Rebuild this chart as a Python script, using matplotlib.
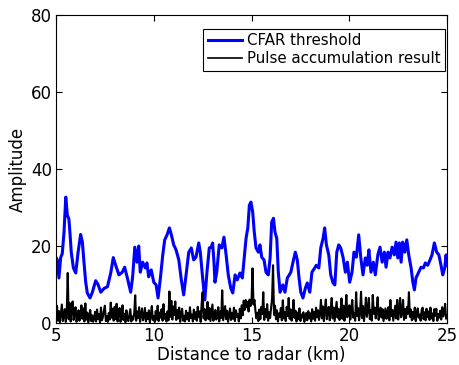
import matplotlib
matplotlib.use("Agg")
import matplotlib.pyplot as plt
import numpy as np

plt.rcParams['font.family'] = ['DejaVu Sans']

# CFAR threshold (km, amplitude)
cfar_km = [5.00, 5.07, 5.15, 5.24, 5.32, 5.41, 5.50, 5.58, 5.66, 5.72, 5.78, 5.89,
           6.01, 6.13, 6.26, 6.35, 6.43, 6.52, 6.60, 6.74, 6.86, 7.03, 7.15, 7.29,
           7.46, 7.63, 7.80, 7.93, 8.05, 8.22, 8.39, 8.51, 8.65, 8.82, 8.92,
           9.03, 9.14, 9.23, 9.31, 9.43, 9.57, 9.65, 9.74, 9.87, 10.00, 10.12,
           10.22, 10.34, 10.46, 10.56, 10.68, 10.80, 10.90, 11.02, 11.14, 11.28,
           11.41, 11.53, 11.65, 11.79, 11.92, 12.04, 12.16, 12.30, 12.38, 12.50,
           12.61, 12.72, 12.84, 12.94,
           13.01, 13.08, 13.13, 13.22, 13.35, 13.48, 13.59, 13.70, 13.81, 13.94,
           14.04, 14.16, 14.27, 14.41, 14.53, 14.63, 14.72, 14.81, 14.89, 14.97,
           15.06, 15.14, 15.23, 15.35, 15.43, 15.52, 15.64, 15.74, 15.86, 15.95,
           16.03, 16.12, 16.20, 16.29, 16.37, 16.46, 16.60, 16.71, 16.83, 16.93,
           17.01, 17.12, 17.24, 17.34, 17.43, 17.52, 17.63, 17.75, 17.85, 17.98,
           18.09, 18.23, 18.31, 18.44, 18.54, 18.66, 18.74, 18.83, 18.95, 19.05,
           19.17, 19.26, 19.36, 19.46, 19.56, 19.68, 19.80, 19.90, 20.02, 20.14,
           20.24, 20.36, 20.48, 20.59, 20.70, 20.82, 20.92,
           21.00, 21.11, 21.23, 21.33, 21.46, 21.57, 21.68, 21.79, 21.88, 21.98,
           22.08, 22.19, 22.30, 22.39, 22.48, 22.56, 22.65, 22.73, 22.84, 22.94,
           23.04, 23.16, 23.25, 23.33, 23.41, 23.55, 23.67, 23.79, 23.89, 24.01,
           24.13, 24.23, 24.35, 24.47, 24.58, 24.69, 24.78, 24.88, 24.95, 25.00]
cfar_amp = [17.0, 16.4, 11.7, 17.0, 18.0, 23.6, 32.7, 28.0, 27.0, 23.0, 18.4, 14.3,
            13.0, 18.4, 23.0, 21.0, 15.8, 10.6, 7.8, 6.5, 8.0, 11.0, 10.0, 8.0,
            9.0, 9.4, 13.0, 17.0, 15.0, 12.5, 13.2, 14.5, 11.7, 8.0, 12.0,
            19.7, 15.8, 20.0, 13.2, 15.8, 14.3, 15.6, 12.0, 13.8, 10.6, 9.9,
            6.5, 11.7, 17.7, 21.6, 22.9, 24.7, 22.9, 20.3, 19.0, 16.4,
            11.2, 7.3, 12.5, 18.4, 19.5, 16.4, 17.1, 20.8, 18.4, 11.7,
            6.0, 13.2, 19.5, 19.7,
            20.8, 15.8, 10.6, 13.2, 20.3, 19.5, 22.3, 17.7, 12.5, 9.0,
            7.8, 12.5, 11.2, 13.0, 11.7, 17.1, 22.0, 24.7, 30.6, 31.4,
            28.8, 23.6, 19.5, 18.4, 20.3, 17.1, 16.4, 13.2, 12.5, 16.9,
            26.2, 27.2, 23.6, 22.0, 13.2, 8.0, 9.9, 8.0, 11.7, 12.5,
            13.2, 15.8, 18.4, 16.4, 11.7, 8.0, 6.5, 9.0, 10.4, 8.0,
            13.2, 14.3, 15.0, 14.3, 19.5, 22.0, 24.7, 20.3, 17.7, 12.5,
            10.4, 9.9, 18.4, 20.3, 19.5, 17.1, 13.2, 15.8, 10.6, 13.2,
            18.4, 17.1, 22.9, 16.9, 12.5, 16.9, 15.0,
            19.0, 13.2, 15.8, 12.5, 17.7, 19.7, 15.8, 18.4, 14.5, 18.4,
            16.9, 19.7, 17.7, 21.0, 16.9, 20.8, 15.8, 21.0, 18.4, 21.6,
            17.7, 14.3, 10.6, 8.6, 11.7, 13.2, 14.5, 14.3, 15.6, 15.0,
            16.4, 17.7, 20.8, 18.4, 17.7, 15.0, 12.5, 14.3, 17.7, 15.0]

# pulse accumulation result, 20 samples per km from 5 km, last one at 25 km
pulse_amp = [
    1.2, 4.5, 0.6, 3.1, 0.2, 2.4, 4.8, 0.5, 1.9, 3.6, 0.3, 2.8, 13.0, 1.0, 5.2, 0.4, 3.9, 5.6, 0.8, 2.6,
    4.1, 0.3, 1.7, 3.3, 0.6, 2.2, 4.6, 1.1, 3.8, 0.4, 5.1, 0.9, 2.7, 0.2, 1.5, 3.4, 0.5, 2.0, 0.3, 1.2,
    2.9, 0.4, 3.5, 1.0, 2.3, 0.2, 4.0, 0.7, 1.6, 3.2, 4.5, 0.5, 1.8, 0.3, 2.6, 0.9, 5.3, 1.4, 3.7, 0.6,
    4.2, 1.0, 5.0, 0.4, 2.8, 3.9, 0.3, 1.9, 4.6, 0.8, 2.4, 0.2, 3.3, 1.2, 0.5, 2.1, 3.6, 0.4, 1.7, 0.9,
    2.5, 7.2, 0.6, 3.0, 1.3, 4.1, 0.3, 2.2, 3.8, 0.7, 1.5, 3.9, 0.4, 2.6, 1.0, 3.3, 0.2, 2.0, 4.4, 0.8,
    1.8, 0.3, 3.1, 0.9, 4.5, 0.5, 2.7, 1.4, 3.6, 0.6, 4.9, 1.1, 2.3, 0.4, 3.0, 0.7, 8.2, 1.6, 5.8, 0.9,
    4.3, 2.1, 5.6, 0.8, 3.4, 1.2, 4.0, 0.3, 2.5, 3.7, 0.6, 1.9, 0.4, 3.2, 1.0, 2.6, 0.5, 4.1, 1.3, 2.2,
    0.4, 3.5, 1.1, 2.8, 0.6, 4.2, 1.5, 3.0, 0.3, 5.1, 8.0, 1.2, 3.6, 0.7, 2.4, 5.5, 1.0, 3.9, 0.5, 2.7,
    4.8, 0.6, 2.2, 3.4, 0.9, 1.8, 4.1, 0.4, 3.0, 1.3, 8.5, 0.7, 2.5, 4.4, 1.0, 3.2, 0.3, 2.0, 3.8, 0.8,
    2.6, 1.1, 4.0, 0.5, 3.3, 1.6, 2.4, 0.4, 3.7, 1.2, 4.6, 2.0, 5.8, 3.4, 6.0, 4.1, 5.5, 3.0, 6.1, 4.4,
    5.7, 14.2, 4.8, 6.0, 3.1, 1.2, 2.7, 0.5, 3.5, 1.0, 4.2, 2.3, 8.0, 0.8, 3.6, 1.5, 4.9, 0.6, 2.8, 1.3,
    3.9, 6.2, 15.0, 2.1, 4.5, 1.0, 3.3, 0.4, 2.5, 1.6, 3.9, 0.7, 5.9, 1.2, 2.9, 0.5, 4.2, 1.8, 6.5, 1.1,
    3.5, 0.6, 2.4, 6.0, 1.3, 3.2, 0.4, 2.7, 1.0, 3.8, 0.5, 2.2, 1.4, 2.8, 0.3, 1.9, 2.6, 0.7, 3.1, 1.2,
    2.5, 0.4, 3.6, 1.1, 2.9, 0.6, 4.0, 1.5, 3.3, 0.8, 2.4, 6.0, 1.2, 4.3, 0.5, 3.5, 6.1, 1.0, 2.8, 4.2,
    0.7, 3.4, 6.5, 1.2, 4.0, 0.5, 2.9, 5.5, 1.4, 3.7, 0.8, 2.6, 6.4, 1.1, 4.5, 0.6, 3.3, 7.3, 1.5, 2.8,
    4.6, 0.9, 3.2, 6.0, 1.4, 2.5, 0.6, 8.0, 1.8, 3.9, 0.7, 2.7, 8.1, 1.3, 4.4, 0.5, 3.0, 6.6, 1.6, 3.5,
    6.5, 1.0, 3.3, 0.6, 7.3, 2.4, 4.0, 1.2, 3.1, 6.7, 0.8, 2.9, 4.0, 1.4, 3.6, 0.5, 2.2, 3.8, 1.1, 2.7,
    4.1, 0.7, 6.0, 1.8, 3.4, 0.6, 2.6, 4.5, 1.2, 6.0, 0.9, 3.2, 6.5, 1.5, 2.8, 6.0, 0.8, 3.6, 1.3, 4.2,
    2.4, 8.0, 1.6, 3.5, 0.7, 2.9, 1.1, 4.0, 0.5, 2.6, 3.8, 1.4, 2.2, 0.6, 3.4, 4.0, 1.0, 2.8, 0.7, 3.7,
    1.5, 3.0, 0.8, 4.0, 1.2, 2.5, 0.5, 3.6, 1.9, 3.7, 0.6, 2.3, 1.4, 3.2, 0.9, 4.1, 1.7, 2.6, 5.0, 1.1,
    2.0]
pulse_km = np.linspace(5, 25, len(pulse_amp))

fig = plt.figure(figsize=(4.59, 3.65), dpi=100)
ax = fig.add_axes([0.122, 0.115, 0.852, 0.844])

ax.plot(cfar_km, cfar_amp, color='#0000ff', lw=2.2, label='CFAR threshold')
ax.plot(pulse_km, pulse_amp, color='black', lw=1.5, label='Pulse accumulation result')

ax.set_xlim(5, 25)
ax.set_ylim(0, 80)
ax.set_xticks([5, 10, 15, 20, 25])
ax.set_yticks([0, 20, 40, 60, 80])
ax.tick_params(direction='in', top=True, right=True, labelsize=12, length=4)
ax.tick_params(axis='x', pad=3)
ax.tick_params(axis='y', pad=3)
ax.set_xlabel('Distance to radar (km)', fontsize=12, labelpad=0.5)
ax.set_ylabel('Amplitude', fontsize=12, labelpad=3)

leg = ax.legend(loc='upper right', bbox_to_anchor=(0.995, 0.955), fontsize=10.8,
                fancybox=False, framealpha=1, edgecolor='black',
                handlelength=2.3, borderpad=0.3, labelspacing=0.2,
                handletextpad=0.3, borderaxespad=0)
leg.get_frame().set_linewidth(0.8)
leg.get_lines()[1].set_linewidth(1.2)

fig.savefig('out.png', dpi=100)
